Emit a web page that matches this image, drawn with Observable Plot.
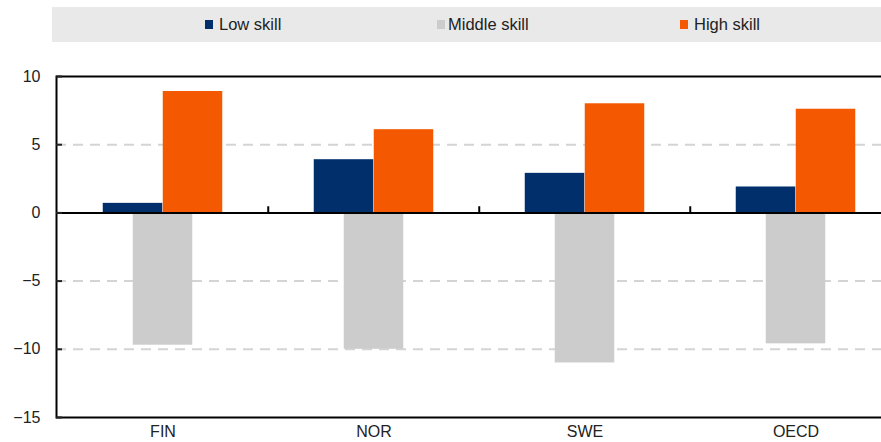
<!DOCTYPE html>
<html><head><meta charset="utf-8">
<script src="https://cdn.jsdelivr.net/npm/d3@7"></script>
<script src="https://cdn.jsdelivr.net/npm/@observablehq/plot@0.6"></script>
<style>
body{margin:0;background:#fff;font-family:"Liberation Sans",Arial,sans-serif;}
#wrap{position:relative;width:881px;height:442px;overflow:hidden;}
#legend{position:relative;width:881px;height:42px;}
#legend .band{position:absolute;left:52px;top:7px;width:829px;height:35px;background:#e9e9e9;}
.item{position:absolute;top:7px;height:35px;display:flex;align-items:center;font-size:16.5px;color:#222;white-space:nowrap;}
.sw{width:8px;height:9px;margin-right:6px;display:inline-block;}
svg{display:block;}
</style>
</head><body>
<div id="wrap">
<div id="legend"><div class="band"></div></div>
<div id="chart"></div>
</div>
<script>
const countries = ["FIN", "NOR", "SWE", "OECD"];
const series = ["Low skill", "Middle skill", "High skill"];
const lowSkill = [0.7, 3.9, 2.9, 1.9];
const middleSkill = [-9.7, -10.0, -11.0, -9.6];
const highSkill = [8.9, 6.1, 8.0, 7.6];
const colors = ["#002f6c", "#cccccc", "#f45800"];
const yTicks = [-15, -10, -5, 0, 5, 10];
const gridTicks = [-10, -5, 5];

const legendLefts = [205, 437, 680];
const legend = document.getElementById("legend");
series.forEach((s, i) => {
  const it = document.createElement("div");
  it.className = "item";
  it.style.left = legendLefts[i] + "px";
  const sw = document.createElement("span");
  sw.className = "sw";
  sw.style.background = colors[i];
  if (i === 1) sw.style.marginRight = "3px";
  it.appendChild(sw);
  it.appendChild(document.createTextNode(s));
  legend.appendChild(it);
});

const table = countries.map((c, i) => ({country: c, low: lowSkill[i], middle: middleSkill[i], high: highSkill[i]}));

const W = 881, ML = 56, MR = -21;
const half = (W - ML - MR) / countries.length / 2;
const barW = 60;

const chart = Plot.plot({
  width: W,
  height: 400,
  marginLeft: ML,
  marginRight: MR,
  marginTop: 34,
  marginBottom: 25,
  style: {fontFamily: "'Liberation Sans', Arial, sans-serif", fontSize: "16px", color: "#222", background: "#fff", overflow: "hidden"},
  x: {domain: countries, padding: 0, label: null},
  y: {domain: [-15, 10], label: null},
  marks: [
    Plot.gridY(gridTicks, {stroke: "#d4d4d4", strokeOpacity: 1, strokeWidth: 2, strokeDasharray: "10,7"}),
    Plot.barY(table, {x: "country", y: "low", fill: colors[0], insetLeft: half - barW, insetRight: half}),
    Plot.barY(table, {x: "country", y: "middle", fill: colors[1], insetLeft: half - barW / 2, insetRight: half - barW / 2}),
    Plot.barY(table, {x: "country", y: "high", fill: colors[2], insetLeft: half, insetRight: half - barW}),
    Plot.ruleY([0], {stroke: "black", strokeWidth: 2}),
    Plot.ruleX(countries.slice(1), {x: d => d, y1: 0, y2: 0.45, dx: -half, stroke: "black", strokeWidth: 2}),
    Plot.frame({stroke: "black", strokeWidth: 2}),
    Plot.axisY(yTicks, {tickSize: -6, tickPadding: 22, strokeWidth: 2, fill: "#222", label: null}),
    Plot.axisX({tickSize: 0, tickPadding: 8, fill: "#222", label: null})
  ]
});
document.getElementById("chart").appendChild(chart);
</script>
</body></html>
